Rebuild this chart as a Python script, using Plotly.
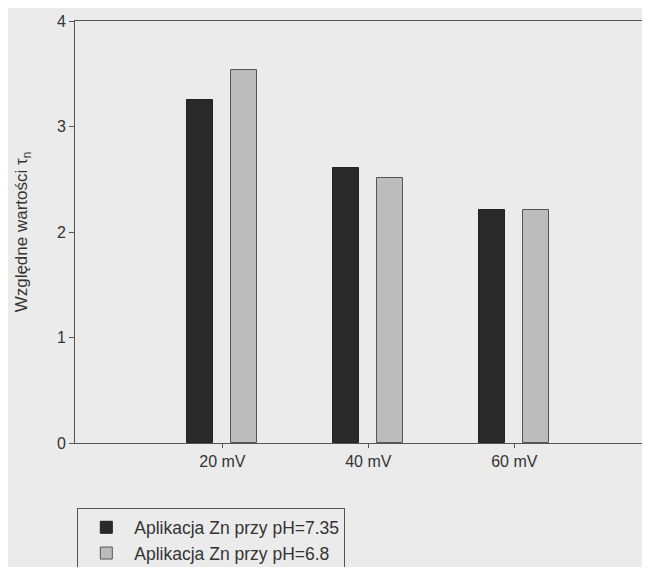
import plotly.graph_objects as go

categories = ["20 mV", "40 mV", "60 mV"]
ph735 = [3.25, 2.61, 2.21]
ph68 = [3.54, 2.51, 2.21]
series_names = ["Aplikacja Zn przy pH=7.35", "Aplikacja Zn przy pH=6.8"]
y_ticks = [0, 1, 2, 3, 4]

BG = "#ebebeb"
FONT = "Liberation Sans, Arial, sans-serif"

fig = go.Figure()
fig.add_trace(go.Bar(
    x=[0, 1, 2], y=ph735, name=series_names[0], width=0.175, offset=-0.24,
    marker=dict(color="#2a2a2a", line=dict(color="#222222", width=1)),
))
fig.add_trace(go.Bar(
    x=[0, 1, 2], y=ph68, name=series_names[1], width=0.18, offset=0.06,
    marker=dict(color="#bcbcbc", line=dict(color="#555555", width=1)),
))

fig.update_layout(
    width=642, height=559,
    paper_bgcolor=BG, plot_bgcolor=BG,
    margin=dict(l=67, r=0, t=13, b=124, autoexpand=False),
    font=dict(family=FONT, size=16, color="#333333"),
    showlegend=True,
    legend=dict(
        x=0.004, y=-0.155, xanchor="left", yanchor="top",
        bgcolor=BG, bordercolor="#555555", borderwidth=1,
        font=dict(size=17.5, color="#333333"),
        orientation="v", itemwidth=46,
    ),
    bargap=0,
)
fig.update_xaxes(
    range=[-1.01, 2.93],
    tickmode="array", tickvals=[0, 1, 2], ticktext=categories,
    showline=True, linecolor="#555555", linewidth=1, mirror=True,
    ticks="outside", ticklen=4, tickcolor="#555555",
    showgrid=False, zeroline=False,
    tickfont=dict(size=16),
)
fig.update_yaxes(
    range=[0, 4], tickmode="array", tickvals=y_ticks,
    showline=True, linecolor="#555555", linewidth=1, mirror=True,
    ticks="outside", ticklen=5, tickcolor="#555555",
    showgrid=False, zeroline=False,
    tickfont=dict(size=16),
    title=dict(text="Względne wartości τ<sub>n</sub>", font=dict(size=17), standoff=24),
)

fig.write_html("out.html")
